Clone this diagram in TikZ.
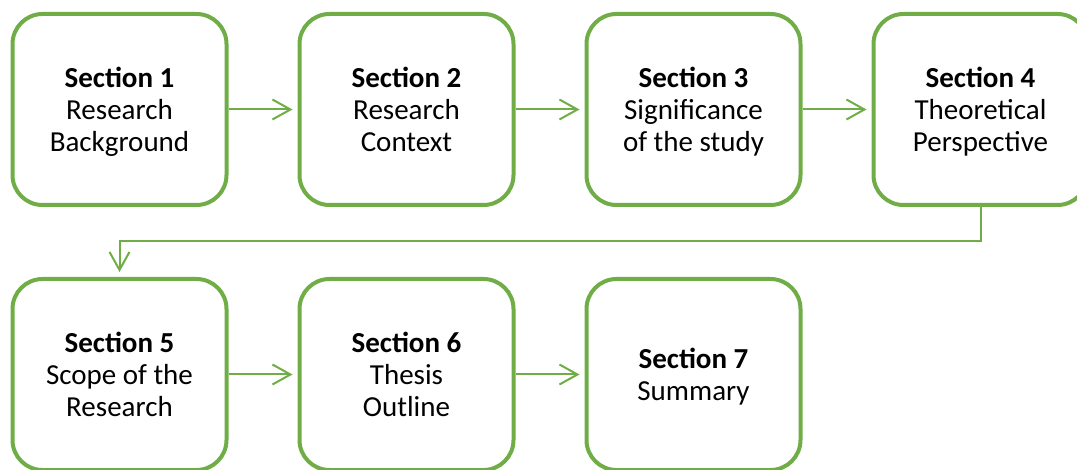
\documentclass[tikz,border=0pt]{standalone}
\usepackage{fontspec}
\setmainfont{Carlito}
\usetikzlibrary{arrows.meta}
\definecolor{leaf}{HTML}{70AD47}
% taller strut for the heading line, so each box's text sits a little low
\newcommand{\headstrut}{\rule[-9.6pt]{0pt}{39pt}}
\begin{document}
\begin{tikzpicture}[x=1pt,y=-1pt,
  secbox/.style={draw=leaf, line width=4pt, fill=white, rounded corners=30pt,
    minimum width=214pt, minimum height=191pt, inner sep=0pt, align=center,
    font=\fontsize{29}{32}\selectfont},
  link/.style={draw=leaf, line width=2pt,
    -{Straight Barb[length=18pt,width=20pt,line width=2pt]}, shorten >=5pt}]
  \useasboundingbox (0,0) rectangle (1077,470);
  % first row
  \node[secbox] (s1) at (119.5,109.5) {\headstrut\textbf{Section 1}\\\strut Research\\\strut Background};
  \node[secbox] (s2) at (406.5,109.5) {\headstrut\textbf{Section 2}\\\strut Research\\\strut Context};
  \node[secbox] (s3) at (693.5,109.5) {\headstrut\textbf{Section 3}\\\strut Significance\\\strut of the study};
  \node[secbox] (s4) at (980.5,109.5) {\headstrut\textbf{Section 4}\\\strut Theoretical\\\strut Perspective};
  % second row
  \node[secbox] (s5) at (119.5,374.5) {\headstrut\textbf{Section 5}\\\strut Scope of the\\\strut Research};
  \node[secbox] (s6) at (406.5,374.5) {\headstrut\textbf{Section 6}\\\strut Thesis\\\strut Outline};
  \node[secbox] (s7) at (693.5,374.5) {\headstrut\textbf{Section 7}\\\strut Summary};
  % connectors
  \draw[link] (s1) -- (s2);
  \draw[link] (s2) -- (s3);
  \draw[link] (s3) -- (s4);
  \draw[link] (s4.south) -- ++(0,34) -| (s5.north);
  \draw[link] (s5) -- (s6);
  \draw[link] (s6) -- (s7);
\end{tikzpicture}
\end{document}
